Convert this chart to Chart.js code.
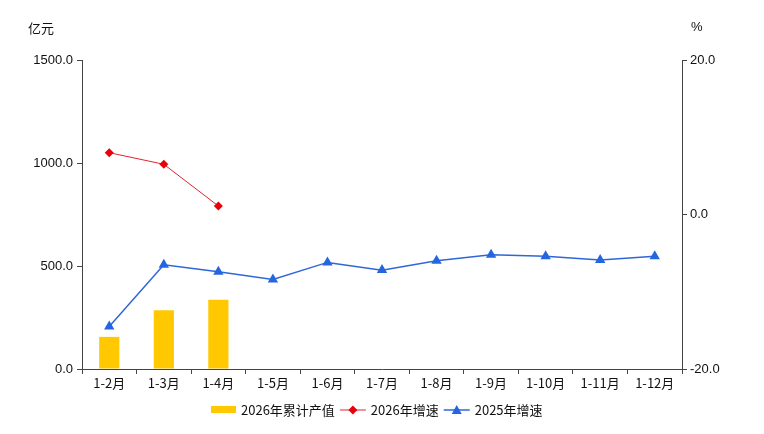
<!DOCTYPE html>
<html>
<head>
<meta charset="utf-8">
<script src="https://cdn.jsdelivr.net/npm/chart.js@4.4.1/dist/chart.umd.min.js"></script>
<style>
  html, body { margin: 0; padding: 0; background: #fff; }
  #wrap { width: 764px; height: 434px; position: relative; }
</style>
</head>
<body>
<div id="wrap"><canvas id="myChart"></canvas></div>
<script>
const months = ['1-2月', '1-3月', '1-4月', '1-5月', '1-6月', '1-7月', '1-8月', '1-9月', '1-10月', '1-11月', '1-12月']
const output2026 = [156, 285, 336, null, null, null, null, null, null, null, null]
const growth2026 = [8.0, 6.5, 1.1, null, null, null, null, null, null, null, null]
const growth2025 = [-14.5, -6.5, -7.4, -8.4, -6.2, -7.2, -6.0, -5.2, -5.4, -5.9, -5.4]
const legendNames = ['2026年累计产值', '2026年增速', '2025年增速']

const cjkFont = '"Noto Sans CJK SC", "Noto Sans", sans-serif'
const numFont = '"Liberation Sans", Arial, sans-serif'

// axis titles + custom legend
const extras = {
    id: 'extras',
    afterDraw(chart) {
        const c = chart.ctx
        c.save()
        c.fillStyle = '#111'
        c.textBaseline = 'middle'
        c.font = '13px ' + cjkFont
        c.textAlign = 'left'
        c.fillText('亿元', 28, 28)
        c.font = '13px ' + numFont
        c.fillText('%', 691, 27)

        // legend
        c.font = '13px ' + cjkFont
        const y = 410
        const lineW = 26
        const widths = legendNames.map(n => c.measureText(n).width)
        const total = 25 + 5 + widths[0] + 5 + lineW + 5 + widths[1] + 5 + lineW + 5 + widths[2]
        let x = Math.round(377 - total / 2)
        c.fillStyle = '#ffc800'
        c.fillRect(x, y - 4, 25, 7)
        x += 30
        c.fillStyle = '#111'
        c.fillText(legendNames[0], x, y)
        x += widths[0] + 5
        c.strokeStyle = '#e0242c'
        c.lineWidth = 1
        c.beginPath(); c.moveTo(x, y); c.lineTo(x + lineW, y); c.stroke()
        c.fillStyle = '#e8000b'
        c.beginPath()
        c.moveTo(x + 13, y - 4.5); c.lineTo(x + 17.5, y); c.lineTo(x + 13, y + 4.5); c.lineTo(x + 8.5, y)
        c.closePath(); c.fill()
        x += lineW + 5
        c.fillStyle = '#111'
        c.fillText(legendNames[1], x, y)
        x += widths[1] + 5
        c.strokeStyle = '#2f66d8'
        c.lineWidth = 1.5
        c.beginPath(); c.moveTo(x, y); c.lineTo(x + lineW, y); c.stroke()
        c.fillStyle = '#2466e0'
        c.beginPath()
        c.moveTo(x + 13, y - 5); c.lineTo(x + 18, y + 4); c.lineTo(x + 8, y + 4)
        c.closePath(); c.fill()
        x += lineW + 5
        c.fillStyle = '#111'
        c.fillText(legendNames[2], x, y)
        c.restore()
    }
}

const ctx = document.getElementById('myChart').getContext('2d')
const myChart = new Chart(ctx, {
    data: {
        labels: months,
        datasets: [
            {
                type: 'line',
                label: legendNames[1],
                data: growth2026,
                yAxisID: 'y1',
                borderColor: '#e0242c',
                borderWidth: 1,
                pointStyle: 'rectRot',
                pointRadius: 4.5,
                pointBackgroundColor: '#e8000b',
                pointBorderColor: '#e8000b',
                pointBorderWidth: 0,
                tension: 0,
                spanGaps: false,
                order: 1
            },
            {
                type: 'line',
                label: legendNames[2],
                data: growth2025,
                yAxisID: 'y1',
                borderColor: '#2f66d8',
                borderWidth: 1.5,
                pointStyle: 'triangle',
                pointRadius: 6,
                pointBackgroundColor: '#2466e0',
                pointBorderColor: '#2466e0',
                pointBorderWidth: 0,
                tension: 0,
                order: 2
            },
            {
                type: 'bar',
                label: legendNames[0],
                data: output2026,
                yAxisID: 'y',
                backgroundColor: '#ffc800',
                categoryPercentage: 0.37,
                barPercentage: 1,
                order: 3
            }
        ]
    },
    options: {
        responsive: true,
        maintainAspectRatio: false,
        animation: false,
        layout: { padding: { top: 60, left: 0, right: 0, bottom: 0 } },
        plugins: {
            legend: { display: false },
            tooltip: { enabled: false }
        },
        scales: {
            x: {
                offset: true,
                afterFit: (s) => { s.height = 65 },
                border: { display: true, color: '#444', width: 1 },
                grid: { offset: true, drawOnChartArea: false, drawTicks: true, tickLength: 5, color: '#444' },
                ticks: { color: '#111', font: { family: cjkFont, size: 13 }, padding: 1, maxRotation: 0, autoSkip: false }
            },
            y: {
                position: 'left',
                min: 0,
                max: 1500,
                afterFit: (s) => { s.width = 82 },
                border: { display: true, color: '#444', width: 1 },
                grid: { drawOnChartArea: false, drawTicks: true, tickLength: 5, color: '#444' },
                ticks: {
                    stepSize: 500,
                    color: '#111',
                    padding: 4,
                    font: { family: numFont, size: 13 },
                    callback: (v) => Number(v).toFixed(1)
                }
            },
            y1: {
                position: 'right',
                min: -20,
                max: 20,
                afterFit: (s) => { s.width = 82 },
                border: { display: true, color: '#444', width: 1 },
                grid: { drawOnChartArea: false, drawTicks: true, tickLength: 5, color: '#444' },
                ticks: {
                    stepSize: 20,
                    color: '#111',
                    padding: 3,
                    font: { family: numFont, size: 13 },
                    callback: (v) => Number(v).toFixed(1)
                }
            }
        }
    },
    plugins: [extras]
})
</script>
</body>
</html>
